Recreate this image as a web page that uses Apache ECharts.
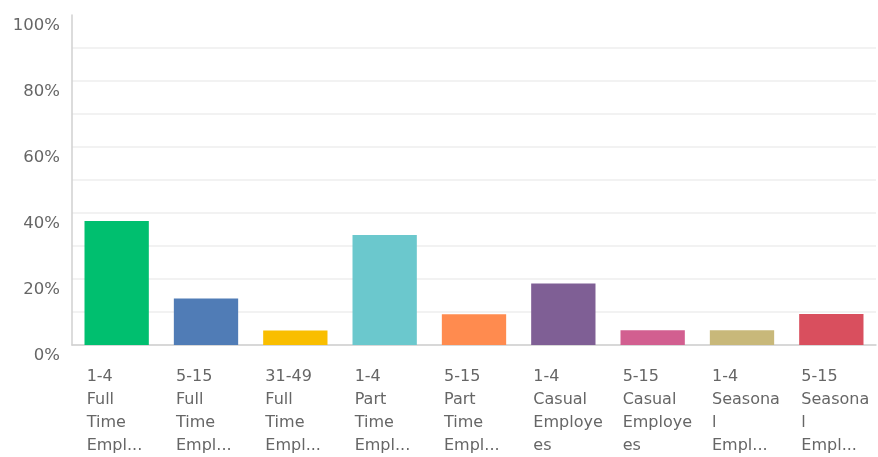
<!DOCTYPE html>
<html>
<head>
<meta charset="utf-8">
<script src="https://cdn.jsdelivr.net/npm/echarts@6/dist/echarts.min.js"></script>
<style>
  html, body { margin: 0; padding: 0; background: #fff; }
  #chart { width: 878px; height: 457px; }
</style>
</head>
<body>
<div id="chart"></div>
<script>
// Answer choices as shown under each bar (wrapped / shortened)
const categories = [
  '1-4\nFull\nTime\nEmpl...',
  '5-15\nFull\nTime\nEmpl...',
  '31-49\nFull\nTime\nEmpl...',
  '1-4\nPart\nTime\nEmpl...',
  '5-15\nPart\nTime\nEmpl...',
  '1-4\nCasual\nEmploye\nes',
  '5-15\nCasual\nEmploye\nes',
  '1-4\nSeasona\nl\nEmpl...',
  '5-15\nSeasona\nl\nEmpl...'
];

// Share of responses, percent
const percents = [37.6, 14.1, 4.4, 33.3, 9.3, 18.6, 4.5, 4.5, 9.4];

// One colour per answer choice
const barColors = [
  '#00bf6f', '#507cb6', '#f9be00', '#6bc8cd', '#ff8b4f',
  '#7f5f95', '#d25f90', '#c8b87a', '#d94f5e'
];

const yTicks = [0, 20, 40, 60, 80, 100];

const textFont = 'DejaVu Sans';
const textColor = '#666666';

const chart = echarts.init(document.getElementById('chart'), null, { renderer: 'canvas' });

chart.setOption({
  animation: false,
  backgroundColor: '#ffffff',
  grid: { left: 72, right: 2, top: 15, bottom: 111.5, containLabel: false },
  xAxis: {
    type: 'category',
    data: categories,
    axisLine: { show: true, lineStyle: { color: '#d0d0d0', width: 1.5 } },
    axisTick: { show: false },
    axisLabel: {
      interval: 0,
      margin: 20,
      align: 'center',
      color: textColor,
      fontFamily: textFont,
      fontSize: 16.5,
      lineHeight: 23,
      formatter: function (v) {
        return v.split('\n').map(function (l) { return '{a|' + l + '}'; }).join('\n');
      },
      rich: {
        a: {
          width: 60,
          align: 'left',
          color: textColor,
          fontFamily: textFont,
          fontSize: 16,
          lineHeight: 23
        }
      }
    }
  },
  yAxis: {
    type: 'value',
    min: 0,
    max: 100,
    interval: 10,
    axisLine: { show: true, lineStyle: { color: '#d0d0d0', width: 1.5 } },
    axisTick: { show: false },
    splitLine: {
      show: true,
      showMaxLine: false,
      lineStyle: { color: '#eeeeee', width: 1.5 }
    },
    axisLabel: {
      margin: 12,
      color: textColor,
      fontFamily: textFont,
      fontSize: 16.5,
      verticalAlign: 'top',
      padding: [2, 0, 0, 0],
      formatter: function (v) {
        return yTicks.indexOf(v) >= 0 ? v + '%' : '';
      }
    }
  },
  series: [{
    type: 'bar',
    barCategoryGap: '28%',
    data: percents.map(function (v, i) {
      return { value: v, itemStyle: { color: barColors[i] } };
    })
  }]
});
</script>
</body>
</html>
